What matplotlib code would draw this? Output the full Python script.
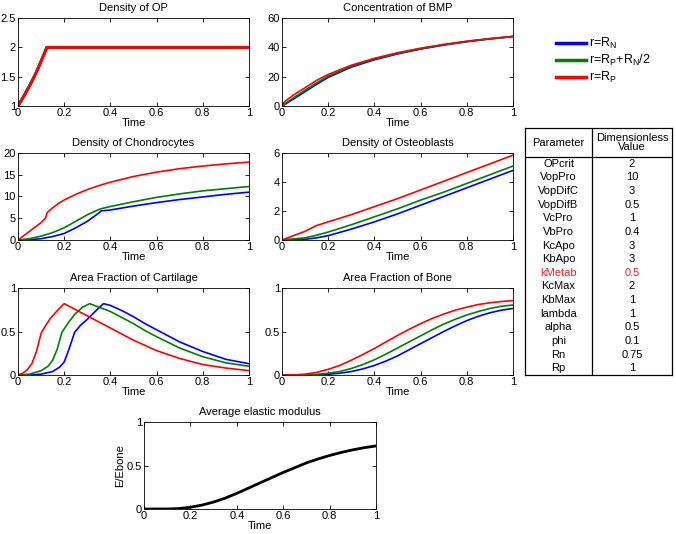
import numpy as np
import matplotlib
matplotlib.use('Agg')
import matplotlib.pyplot as plt
from matplotlib.lines import Line2D

plt.rcParams['font.family'] = ['Liberation Sans', 'DejaVu Sans']
plt.rcParams['font.size'] = 8
plt.rcParams['mathtext.default'] = 'regular'

# ---- data ----
t_op = [0, 0.015, 0.03, 0.045, 0.06, 0.075, 0.09, 0.105, 0.125, 1.0]
op = [1, 1.1, 1.2, 1.31, 1.42, 1.54, 1.67, 1.81, 2.0, 2.0]

t_bmp = [0, 0.02, 0.05, 0.1, 0.15, 0.2, 0.3, 0.4, 0.5, 0.6, 0.7, 0.8, 0.9, 1.0]
bmp_n = [0, 1.8, 4.8, 9.8, 14.8, 19.5, 26.5, 31.5, 35.5, 38.8, 41.5, 43.8, 45.7, 47.3]
bmp_m = [0, 2.3, 5.6, 10.8, 15.8, 20.3, 27.1, 32.0, 35.9, 39.1, 41.8, 44.0, 45.8, 47.4]
bmp_p = [1, 4.0, 7.5, 12.5, 17.5, 21.5, 27.8, 32.5, 36.3, 39.4, 42.0, 44.2, 46.0, 47.5]

t_ch_p = [0, 0.05, 0.1, 0.115, 0.12, 0.125, 0.13, 0.15, 0.175, 0.2, 0.25, 0.3, 0.35,
          0.4, 0.5, 0.6, 0.7, 0.8, 0.9, 1.0]
ch_p = [0, 2.0, 4.0, 4.8, 5.2, 6.1, 6.5, 7.4, 8.4, 9.2, 10.5, 11.6, 12.5,
        13.3, 14.6, 15.6, 16.4, 17.0, 17.5, 17.9]
t_ch = [0, 0.05, 0.1, 0.15, 0.2, 0.25, 0.3, 0.35, 0.36, 0.4, 0.5, 0.6, 0.7, 0.8, 0.9, 1.0]
ch_m = [0, 0.3, 0.9, 1.7, 2.8, 4.3, 5.8, 7.0, 7.2, 7.7, 8.8, 9.8, 10.6, 11.3, 11.8, 12.3]
ch_n = [0, 0.05, 0.3, 0.8, 1.5, 2.8, 4.3, 6.2, 6.7, 6.9, 7.8, 8.6, 9.3, 9.9, 10.5, 11.0]

t_ob = [0, 0.1, 0.15, 0.2, 0.3, 0.4, 0.5, 0.6, 0.7, 0.8, 0.9, 1.0]
ob_p = [0, 0.6, 1.0, 1.25, 1.75, 2.3, 2.85, 3.45, 4.05, 4.65, 5.25, 5.85]
ob_m = [0, 0.15, 0.33, 0.55, 1.05, 1.6, 2.15, 2.75, 3.3, 3.9, 4.5, 5.1]
ob_n = [0, 0.05, 0.15, 0.3, 0.75, 1.25, 1.8, 2.4, 3.0, 3.6, 4.2, 4.8]

t_car_p = [0, 0.02, 0.04, 0.06, 0.08, 0.1, 0.12, 0.14, 0.17, 0.2, 0.25, 0.3, 0.35,
           0.4, 0.45, 0.5, 0.55, 0.6, 0.7, 0.8, 0.9, 1.0]
car_p = [0, 0.02, 0.06, 0.13, 0.27, 0.48, 0.57, 0.65, 0.74, 0.82, 0.75, 0.68, 0.61,
         0.54, 0.47, 0.40, 0.34, 0.28, 0.19, 0.12, 0.08, 0.05]
t_car_m = [0, 0.05, 0.1, 0.13, 0.15, 0.17, 0.19, 0.22, 0.25, 0.28, 0.31, 0.35, 0.4,
           0.45, 0.5, 0.55, 0.6, 0.7, 0.8, 0.9, 1.0]
car_m = [0, 0.01, 0.05, 0.1, 0.17, 0.3, 0.49, 0.61, 0.71, 0.78, 0.82, 0.78, 0.73,
         0.66, 0.59, 0.51, 0.44, 0.31, 0.21, 0.14, 0.10]
t_car_n = [0, 0.05, 0.1, 0.15, 0.18, 0.2, 0.22, 0.245, 0.27, 0.3, 0.33, 0.37, 0.4,
           0.45, 0.5, 0.55, 0.6, 0.7, 0.8, 0.9, 1.0]
car_n = [0, 0.0, 0.01, 0.04, 0.09, 0.15, 0.29, 0.49, 0.57, 0.64, 0.72, 0.82, 0.80,
         0.74, 0.67, 0.59, 0.52, 0.38, 0.27, 0.18, 0.13]

t_bone = [0, 0.05, 0.1, 0.15, 0.2, 0.25, 0.3, 0.35, 0.4, 0.45, 0.5, 0.55, 0.6, 0.65,
          0.7, 0.75, 0.8, 0.85, 0.9, 0.95, 1.0]
bone_p = [0, 0.0, 0.01, 0.03, 0.065, 0.11, 0.17, 0.235, 0.305, 0.38, 0.455, 0.525,
          0.59, 0.65, 0.70, 0.745, 0.78, 0.81, 0.83, 0.845, 0.855]
bone_m = [0, 0.0, 0.0, 0.008, 0.02, 0.04, 0.075, 0.12, 0.175, 0.24, 0.31, 0.38,
          0.45, 0.52, 0.585, 0.64, 0.69, 0.73, 0.765, 0.79, 0.805]
bone_n = [0, 0.0, 0.0, 0.002, 0.008, 0.02, 0.04, 0.07, 0.11, 0.16, 0.22, 0.29,
          0.36, 0.43, 0.50, 0.565, 0.625, 0.675, 0.715, 0.745, 0.765]

t_e = [0, 0.05, 0.1, 0.15, 0.2, 0.25, 0.3, 0.35, 0.4, 0.45, 0.5, 0.55, 0.6, 0.65,
       0.7, 0.75, 0.8, 0.85, 0.9, 0.95, 1.0]
emod = [0, 0.0, 0.0, 0.005, 0.02, 0.045, 0.08, 0.125, 0.18, 0.24, 0.30, 0.36, 0.42,
        0.475, 0.53, 0.575, 0.615, 0.65, 0.68, 0.705, 0.725]

labels = ['r=R$_N$', 'r=R$_P$+R$_N$/2', 'r=R$_P$']

params = ['OPcrit', 'VopPro', 'VopDifC', 'VopDifB', 'VcPro', 'VbPro', 'KcApo',
          'KbApo', 'kMetab', 'KcMax', 'KbMax', 'lambda', 'alpha', 'phi', 'Rn', 'Rp']
values = ['2', '10', '3', '0.5', '1', '0.4', '3', '3', '0.5', '2', '1', '1',
          '0.5', '0.1', '0.75', '1']

# ---- layout ----
W, H = 676, 534
fig = plt.figure(figsize=(W / 100, H / 100), dpi=100)


def mkax(l, r, t, b):
    return fig.add_axes([l / W, 1 - b / H, (r - l) / W, (b - t) / H])


def style(ax, title, ylim, yticks, ylabel=None):
    ax.set_xlim(0, 1)
    ax.set_ylim(*ylim)
    ax.set_xticks([0, 0.2, 0.4, 0.6, 0.8, 1])
    ax.set_xticklabels(['0', '0.2', '0.4', '0.6', '0.8', '1'])
    ax.set_yticks(yticks)
    ax.set_yticklabels(['%g' % v for v in yticks])
    ax.tick_params(direction='in', top=True, right=True, length=3, width=0.6,
                   labelsize=8, pad=1.5)
    for s in ax.spines.values():
        s.set_linewidth(0.6)
    ax.set_title(title, fontsize=8, pad=5)
    ax.set_xlabel('Time', fontsize=8, labelpad=0)
    if ylabel:
        ax.set_ylabel(ylabel, fontsize=8, labelpad=1)


blue, green, red = '#0000ff', '#007f00', '#ff0000'
lw = 1.2

ax1 = mkax(18, 249, 18, 106)
ax1.plot(t_op, op, color=blue, lw=2)
ax1.plot(t_op, op, color=green, lw=2)
ax1.plot(t_op, op, color=red, lw=2)
style(ax1, 'Density of OP', (1, 2.5), [1, 1.5, 2, 2.5])

ax2 = mkax(282, 513, 18, 106)
ax2.plot(t_bmp, bmp_n, color=blue, lw=lw)
ax2.plot(t_bmp, bmp_m, color=green, lw=lw)
ax2.plot(t_bmp, bmp_p, color=red, lw=lw)
style(ax2, 'Concentration of BMP', (0, 60), [0, 20, 40, 60])

ax3 = mkax(18, 249, 153, 240)
ax3.plot(t_ch, ch_n, color=blue, lw=lw)
ax3.plot(t_ch, ch_m, color=green, lw=lw)
ax3.plot(t_ch_p, ch_p, color=red, lw=lw)
style(ax3, 'Density of Chondrocytes', (0, 20), [0, 5, 10, 15, 20])

ax4 = mkax(282, 513, 153, 240)
ax4.plot(t_ob, ob_n, color=blue, lw=lw)
ax4.plot(t_ob, ob_m, color=green, lw=lw)
ax4.plot(t_ob, ob_p, color=red, lw=lw)
style(ax4, 'Density of Osteoblasts', (0, 6), [0, 2, 4, 6])

ax5 = mkax(18, 249, 288, 375)
ax5.plot(t_car_n, car_n, color=blue, lw=lw)
ax5.plot(t_car_m, car_m, color=green, lw=lw)
ax5.plot(t_car_p, car_p, color=red, lw=lw)
style(ax5, 'Area Fraction of Cartilage', (0, 1), [0, 0.5, 1])

ax6 = mkax(282, 513, 288, 375)
ax6.plot(t_bone, bone_n, color=blue, lw=lw)
ax6.plot(t_bone, bone_m, color=green, lw=lw)
ax6.plot(t_bone, bone_p, color=red, lw=lw)
style(ax6, 'Area Fraction of Bone', (0, 1), [0, 0.5, 1])

ax7 = mkax(144, 376, 422, 509)
ax7.plot(t_e, emod, color='black', lw=2)
style(ax7, 'Average elastic modulus', (0, 1), [0, 0.5, 1], ylabel='E/Ebone')

# legend
handles = [Line2D([], [], color=c, lw=2.5) for c in (blue, green, red)]
fig.legend(handles, labels, loc='upper left', bbox_to_anchor=(550 / W, 1 - 30 / H),
           frameon=False, fontsize=9, handlelength=2.4, handletextpad=0.2,
           labelspacing=0.15, borderpad=0)

# parameter table
axt = mkax(525, 672, 128, 375)
axt.set_xlim(0, 147)
axt.set_ylim(247, 0)
axt.set_xticks([])
axt.set_yticks([])
for s in axt.spines.values():
    s.set_linewidth(0.9)
xdiv = 592 - 525
hdr = 29
axt.axvline(xdiv, color='black', lw=0.9)
axt.axhline(hdr, color='black', lw=0.9)
axt.text(xdiv / 2, hdr / 2, 'Parameter', ha='center', va='center', fontsize=8)
axt.text((xdiv + 147) / 2, hdr / 2, 'Dimensionless\nValue', ha='center', va='center',
         fontsize=8, linespacing=0.95)
rowh = (247 - hdr) / len(params)
for i, (p, v) in enumerate(zip(params, values)):
    y = hdr + rowh * (i + 0.5)
    c = '#e8262b' if p == 'kMetab' else 'black'
    axt.text(xdiv / 2, y, p, ha='center', va='center', fontsize=8, color=c)
    axt.text((xdiv + 147) / 2, y, v, ha='center', va='center', fontsize=8, color=c)

fig.savefig('out.png', dpi=100)
